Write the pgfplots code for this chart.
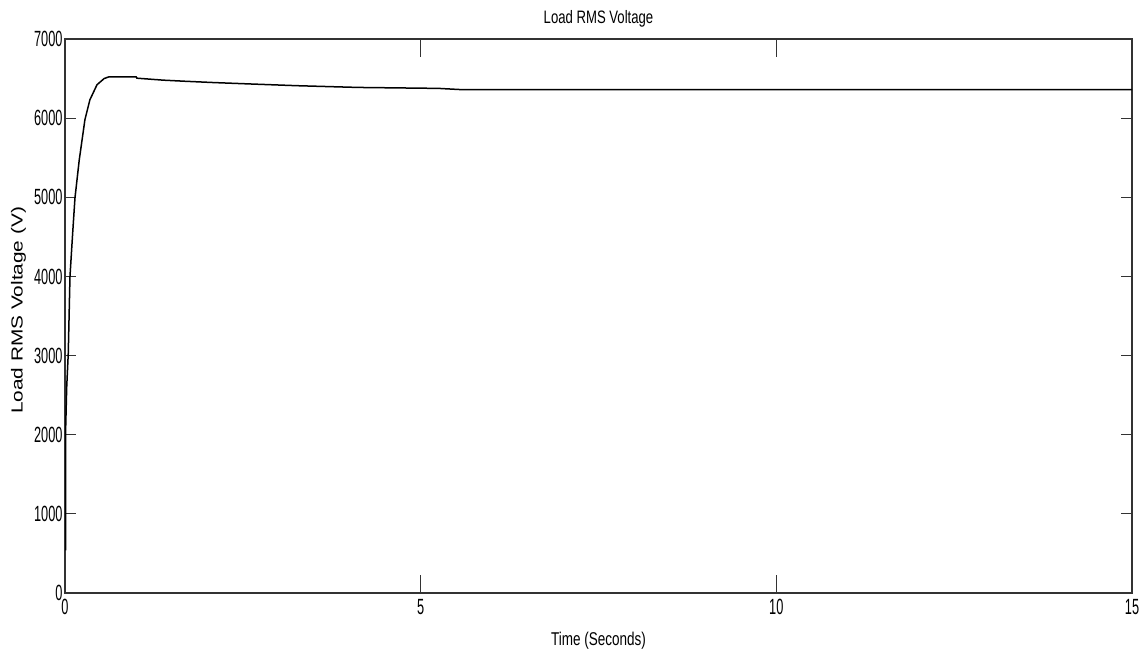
\documentclass[border=0pt]{standalone}
\usepackage{fontspec}
\usepackage{pgfplots}
\pgfplotsset{compat=1.18}
\setmainfont{Liberation Sans}
\newfontfamily\narrow[FakeStretch=0.73]{Liberation Sans}
\newfontfamily\ticky[FakeStretch=0.58]{Liberation Sans}
\newfontfamily\wide[FakeStretch=1.3]{Liberation Sans}
\begin{document}
\begin{tikzpicture}
\begin{axis}[
  name=ax,
  scale only axis,
  width=1067pt, height=554pt,
  xmin=0, xmax=15, ymin=0, ymax=7000,
  xtick={0,5,10,15}, ytick={0,1000,...,7000},
  tick align=inside,
  major tick length=11pt,
  xtick style={/pgfplots/major tick length=18pt},
  axis line style={line width=1.2pt, black!80},
  tick style={line width=1pt, black!80},
  /pgf/number format/assume math mode=true,
  /pgf/number format/1000 sep={},
  tick label style={font=\ticky\fontsize{22}{22}\selectfont},
  xticklabel style={yshift=-3pt},
  yticklabel style={xshift=1pt},
  title={\narrow\fontsize{18}{18}\selectfont Load RMS Voltage},
  title style={at={(axis description cs:0.5,1.0165)}, anchor=base},
  xlabel={\narrow\fontsize{18.5}{18.5}\selectfont Time (Seconds)},
  xlabel style={at={(axis description cs:0.5,0)}, anchor=base, yshift=-52pt},
  ylabel={\wide\fontsize{16}{16}\selectfont Load RMS Voltage (V)},
  ylabel style={at={(axis description cs:-0.0435,0.51)}, anchor=center, rotate=0},
]
\addplot[black, line width=1.5pt] coordinates {
(0.008,540) (0.01,2100) (0.024,2600) (0.046,3030) (0.07,4000) (0.108,4550)
(0.14,4990) (0.2,5470) (0.28,5980) (0.35,6232) (0.45,6422) (0.55,6500)
(0.62,6523) (1.0,6523) (1.01,6505) (1.38,6480) (1.69,6466) (2.08,6450)
(2.6,6432) (3.26,6410) (4.12,6388) (5.25,6376) (5.6,6359) (6.1,6359) (15,6359)
};
\end{axis}
\path (ax.south west) +(-65pt,-58pt) rectangle ([shift={(15pt,39pt)}]ax.north east);
\end{tikzpicture}
\end{document}
